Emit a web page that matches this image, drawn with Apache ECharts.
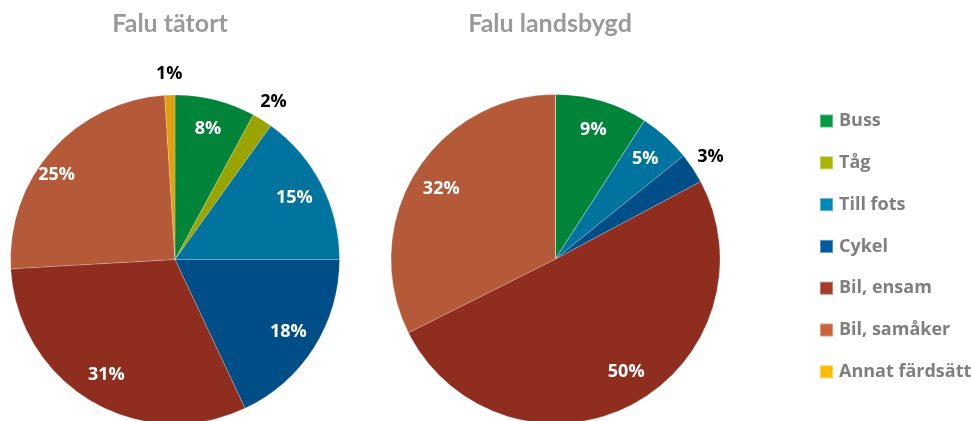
<!DOCTYPE html>
<html>
<head>
<meta charset="utf-8">
<script src="https://cdn.jsdelivr.net/npm/echarts@6/dist/echarts.min.js"></script>
<style>html,body{margin:0;padding:0;background:#fff;}#c{width:971px;height:421px;}</style>
</head>
<body>
<div id="c"></div>
<script>
var categories = ['Buss', 'Tåg', 'Till fots', 'Cykel', 'Bil, ensam', 'Bil, samåker', 'Annat färdsätt'];
var tatortValues = [7.9, 2.0, 15.1, 18.0, 31.1, 24.9, 1.0];
var landsbygdValues = [9.1, 0, 5.1, 3.0, 50.4, 32.4, 0];
var titles = ['Falu tätort', 'Falu landsbygd'];

var sliceColors = ['#00843a', '#9aa300', '#00739e', '#004e87', '#8f2e1f', '#b55a38', '#e0a20c'];
var legendColors = ['#009a44', '#a8b400', '#0088b8', '#005a9c', '#a63a28', '#c9643e', '#ffbb00'];

var R = 164.5;
var LABEL_FONT = '"Open Sans", "Noto Sans", sans-serif';
var TITLE_FONT = 'Lato, "Noto Sans", sans-serif';

function pct(p) { return Math.round(p.value) + '%'; }

function makePies(values, center, shifts) {
  var base = {
    type: 'pie', center: center, radius: R, startAngle: 90, clockwise: true,
    label: { show: false }, labelLine: { show: false },
    emphasis: { disabled: true },
    itemStyle: { borderColor: 'rgba(255,255,255,0.35)', borderWidth: 0.6 },
    data: categories.map(function (n, i) {
      return { name: n, value: values[i], itemStyle: { color: sliceColors[i] } };
    })
  };
  var inner = {
    type: 'pie', center: center, radius: [98, R], startAngle: 90, clockwise: true,
    silent: true, emphasis: { disabled: true }, labelLine: { show: false },
    avoidLabelOverlap: false, z: 5,
    itemStyle: { color: 'rgba(0,0,0,0)' },
    label: { position: 'inside', formatter: pct, color: '#fff',
      fontFamily: LABEL_FONT, fontWeight: 'bold', fontSize: 18 },
    labelLayout: function (p) {
      var s = shifts[p.dataIndex];
      return s ? { dx: s[0], dy: s[1] } : {};
    },
    data: categories.map(function (n, i) {
      return { name: n, value: values[i], label: { show: values[i] > 3.5 } };
    })
  };
  var outer = {
    type: 'pie', center: center, radius: [R, 201], startAngle: 90, clockwise: true,
    silent: true, emphasis: { disabled: true }, labelLine: { show: false },
    avoidLabelOverlap: false, z: 5,
    itemStyle: { color: 'rgba(0,0,0,0)' },
    label: { position: 'inside', formatter: pct, color: '#000',
      fontFamily: LABEL_FONT, fontWeight: 'bold', fontSize: 18 },
    data: categories.map(function (n, i) {
      return { name: n, value: values[i], label: { show: values[i] > 0 && values[i] <= 3.5 } };
    })
  };
  return [base, inner, outer];
}

var chart = echarts.init(document.getElementById('c'), null, { renderer: 'canvas' });
var series = [].concat(
  makePies(tatortValues, [175, 259.5], { 5: [-18, 4] }),
  makePies(landsbygdValues, [555.5, 259], { 4: [9, -6] })
);

chart.setOption({
  animation: false,
  title: [
    { text: titles[0], left: 170, top: 11, textAlign: 'center', padding: 0,
      textStyle: { fontFamily: TITLE_FONT, fontWeight: 'bold', fontSize: 25, color: '#9a9a9a' } },
    { text: titles[1], left: 550, top: 11, textAlign: 'center', padding: 0,
      textStyle: { fontFamily: TITLE_FONT, fontWeight: 'bold', fontSize: 25, color: '#9a9a9a' } }
  ],
  legend: {
    orient: 'vertical', left: 819, top: 112, padding: 0,
    itemWidth: 13, itemHeight: 13, itemGap: 23.8, icon: 'rect',
    selectedMode: false,
    textStyle: { fontFamily: LABEL_FONT, fontWeight: 'bold', fontSize: 18, lineHeight: 18, color: '#7f7f7f', padding: [0, 0, 0, 1] },
    data: categories.map(function (n, i) { return { name: n, itemStyle: { color: legendColors[i] } }; })
  },
  series: series
});
</script>
</body>
</html>
